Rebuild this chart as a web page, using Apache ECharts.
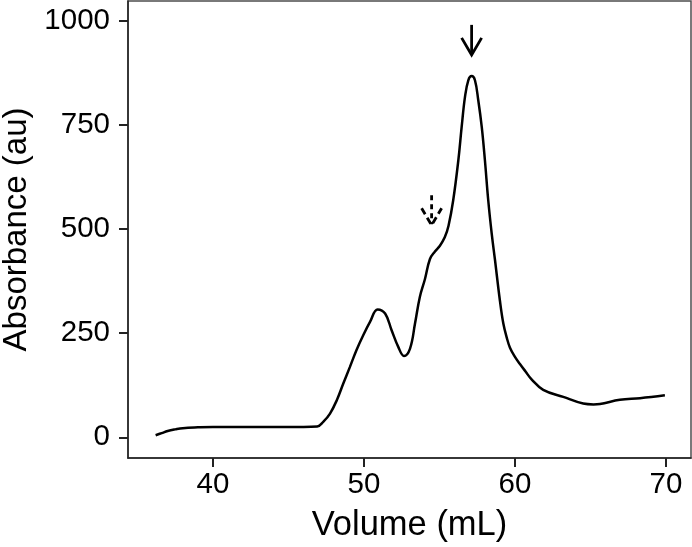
<!DOCTYPE html>
<html>
<head>
<meta charset="utf-8">
<script src="https://cdn.jsdelivr.net/npm/echarts@6/dist/echarts.min.js"></script>
<style>html,body{margin:0;padding:0;background:#fff}#c{width:692px;height:547px}</style>
</head>
<body>
<div id="c"></div>
<script>
const volume = [36.2, 36.6, 37, 37.5, 38, 39, 40, 42, 44, 46, 46.9, 47.3, 47.75, 48.2, 48.63, 49.07, 49.5, 49.95, 50.4, 50.9, 51.4, 51.83, 52.27, 52.65, 53.05, 53.38, 53.7, 54.04, 54.37, 54.7, 55.03, 55.35, 55.6, 55.91, 56.25, 56.47, 56.69, 56.91, 57.13, 57.35, 57.57, 57.8, 58.01, 58.23, 58.46, 58.68, 59.0, 59.23, 59.45, 59.67, 60.0, 60.33, 60.7, 61.1, 61.87, 63.2, 64.52, 65.2, 65.63, 66.95, 68.28, 69.93];
const absorbance = [5, 10, 15, 19, 22, 24, 25, 25, 25, 25, 26, 37, 57, 89, 129, 169, 209, 245, 277, 307, 297, 257, 217, 195, 213, 273, 337, 380, 428, 446, 460, 480, 508, 569, 665, 745, 817, 857, 867, 857, 809, 745, 665, 569, 489, 425, 329, 273, 240, 215, 193, 176, 158, 139, 114, 97, 81, 79, 80, 90, 94, 101];
const xTicks = [40, 50, 60, 70];
const yTicks = [0, 250, 500, 750, 1000];
// annotation arrows: x position, top of shaft, tip (data units), dashed flag
const arrowX = [57.13, 54.48];
const arrowTop = [990, 581];
const arrowTip = [918, 509];
const arrowDashed = [0, 1];

const FONT = '"Liberation Sans", Arial, Helvetica, sans-serif';
const chart = echarts.init(document.getElementById('c'), null, {renderer: 'canvas'});
const lineData = volume.map((v, i) => [v, absorbance[i]]);
const arrowData = arrowX.map((v, i) => [v, arrowTop[i], arrowTip[i], arrowDashed[i]]);

chart.setOption({
  animation: false,
  backgroundColor: '#fff',
  grid: {left: 128, right: 1, top: 1, bottom: 89, containLabel: false, outerBoundsMode: 'none', show: true, borderColor: '#4d4d4d', borderWidth: 1.5, backgroundColor: 'transparent'},
  xAxis: {
    type: 'value', min: 34.37, max: 71.66,
    name: 'Volume (mL)', nameLocation: 'middle', nameGap: 50,
    nameTextStyle: {fontFamily: FONT, fontSize: 34.5, color: '#000'},
    splitLine: {show: false},
    axisLine: {show: true, onZero: false, lineStyle: {color: '#222', width: 1.5}},
    axisTick: {show: true, length: 9, customValues: xTicks, lineStyle: {color: '#222', width: 2}},
    axisLabel: {customValues: xTicks, formatter: v => String(v), fontFamily: FONT, fontSize: 29.5, color: '#000', margin: 12}
  },
  yAxis: {
    type: 'value', min: -49.7, max: 1047.3,
    name: 'Absorbance (au)', nameLocation: 'middle', nameGap: 92, nameRotate: 90,
    nameTextStyle: {fontFamily: FONT, fontSize: 33, color: '#000'},
    splitLine: {show: false},
    axisLine: {show: true, onZero: false, lineStyle: {color: '#222', width: 1.5}},
    axisTick: {show: true, length: 9, customValues: yTicks, lineStyle: {color: '#222', width: 2}},
    axisLabel: {customValues: yTicks, formatter: v => String(v), fontFamily: FONT, fontSize: 29.5, color: '#000', margin: 18}
  },
  series: [
    {
      type: 'line', data: lineData, showSymbol: false, symbol: 'none',
      smooth: 0.4,
      lineStyle: {color: '#000', width: 2.5}
    },
    {
      type: 'custom', data: arrowData, clip: false,
      encode: {x: 0, y: [1, 2]},
      renderItem: function (params, api) {
        const top = api.coord([api.value(0), api.value(1)]);
        const tip = api.coord([api.value(0), api.value(2)]);
        const dashed = api.value(3) === 1;
        const style = {stroke: '#000', lineWidth: 2.8, fill: null, lineDash: dashed ? [5, 4] : null, lineCap: 'butt', lineJoin: 'miter'};
        return {
          type: 'group',
          children: [
            {type: 'line', shape: {x1: top[0], y1: top[1], x2: tip[0], y2: tip[1] - 1}, style: style},
            {type: 'polyline', shape: {points: [[tip[0] - 10, tip[1] - 17], [tip[0], tip[1]], [tip[0] + 10, tip[1] - 17]]}, style: Object.assign({}, style, {lineDash: dashed ? [7, 4] : null})}
          ]
        };
      }
    }
  ]
});
</script>
</body>
</html>
